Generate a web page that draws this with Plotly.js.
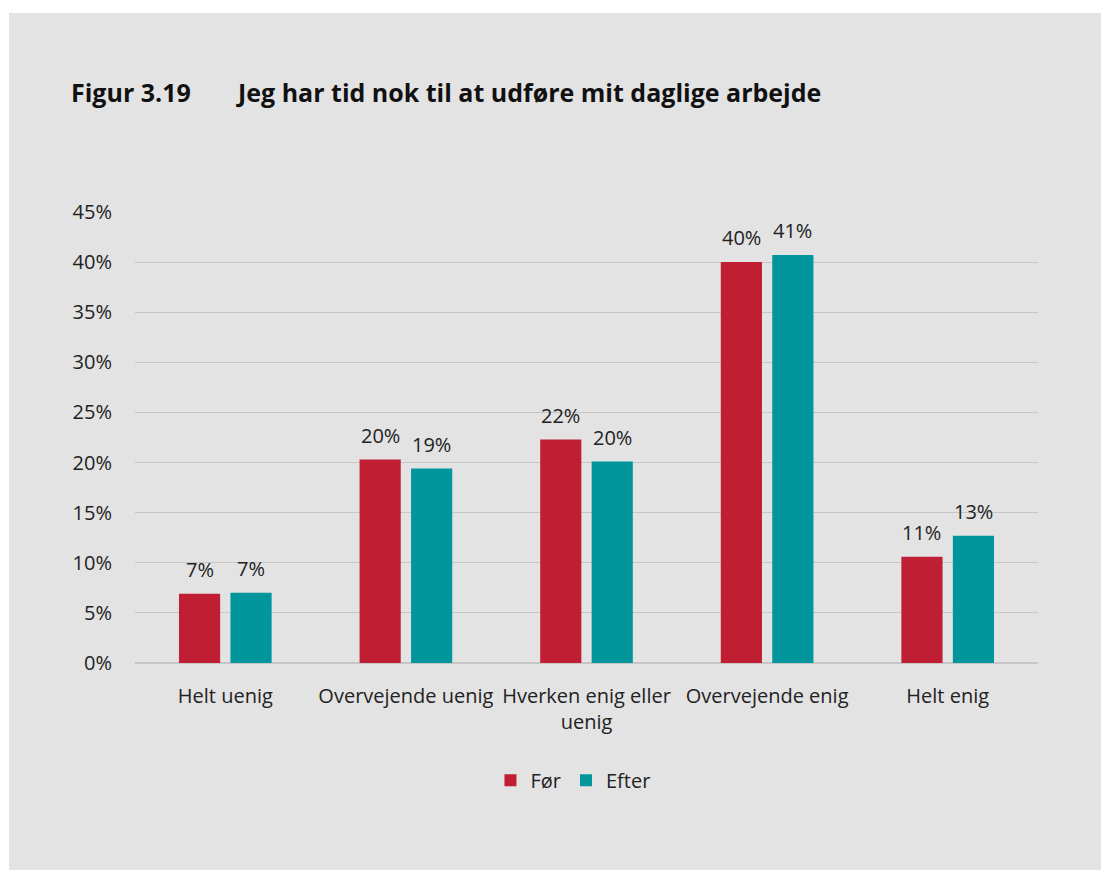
<!DOCTYPE html>
<html><head><meta charset="utf-8">
<script src="https://cdn.plot.ly/plotly-3.0.1.min.js"></script>
<style>html,body{margin:0;padding:0;background:#fff;}#chart{position:absolute;left:9px;top:13px;width:1092px;height:857px;}</style>
</head><body><div id="chart"></div>
<script>
const categories = ["Helt uenig", "Overvejende uenig", "Hverken enig eller<br>uenig", "Overvejende enig", "Helt enig"];
const forValues = [6.9, 20.3, 22.3, 40.0, 10.6];
const efterValues = [7.0, 19.4, 20.1, 40.7, 12.7];
const seriesNames = ["Før", "Efter"];
const seriesColors = ["#C01F33", "#00969C"];
const tickVals = [0, 5, 10, 15, 20, 25, 30, 35, 40, 45];
const tickText = tickVals.map(v => v + "%");
const lbl = v => Math.round(v) + "%";
const font = "Segoe UI, 'Open Sans', 'Noto Sans', sans-serif";
const traces = [
  {type:"bar", name:seriesNames[0], x:categories, y:forValues, marker:{color:seriesColors[0]}},
  {type:"bar", name:seriesNames[1], x:categories, y:efterValues, marker:{color:seriesColors[1]}}
];
const annotations = [
  {text:"<b>Figur 3.19</b>", xref:"paper", yref:"paper", x:(60-126)/903, y:(650-79)/451, xanchor:"left", yanchor:"middle", showarrow:false, font:{size:25,color:"#111"}},
  {text:"<b>Jeg har tid nok til at udføre mit daglige arbejde</b>", xref:"paper", yref:"paper", x:(225-126)/903, y:(650-79)/451, xanchor:"left", yanchor:"middle", showarrow:false, font:{size:25,color:"#111"}}
];
[forValues, efterValues].forEach((vals, s) => {
  vals.forEach((v, i) => {
    annotations.push({text:lbl(v), xref:"x", yref:"y", x:categories[i], y:v, xshift:(s === 0 ? -25.75 : 25.75),
      yanchor:"bottom", yshift:9, showarrow:false, font:{size:20, color:"#222"}});
  });
});
const layout = {
  width:1092, height:857,
  paper_bgcolor:"#e3e3e4", plot_bgcolor:"#e3e3e4",
  margin:{l:126, r:63, t:199, b:207},
  font:{family:font, size:20, color:"#222"},
  barmode:"group", bargap:0.43, bargroupgap:0.2,
  showlegend:true,
  legend:{orientation:"h", x:0.485, xanchor:"center", y:-0.26, yanchor:"middle", font:{size:20}, itemwidth:30, traceorder:"normal"},
  xaxis:{showgrid:false, showline:false, ticks:"", tickfont:{size:20}, ticklabelstandoff:19, automargin:false},
  yaxis:{range:[0,45], tickvals:tickVals, ticktext:tickText, showgrid:true, gridcolor:"#c6c6c6", gridwidth:1,
         zeroline:true, zerolinecolor:"#c6c6c6", zerolinewidth:1.5, ticks:"", ticklen:0, tickfont:{size:20}, ticklabelstandoff:22, automargin:false, fixedrange:true},
  annotations: annotations
};
Plotly.newPlot("chart", traces, layout, {displayModeBar:false, staticPlot:true});
</script></body></html>
